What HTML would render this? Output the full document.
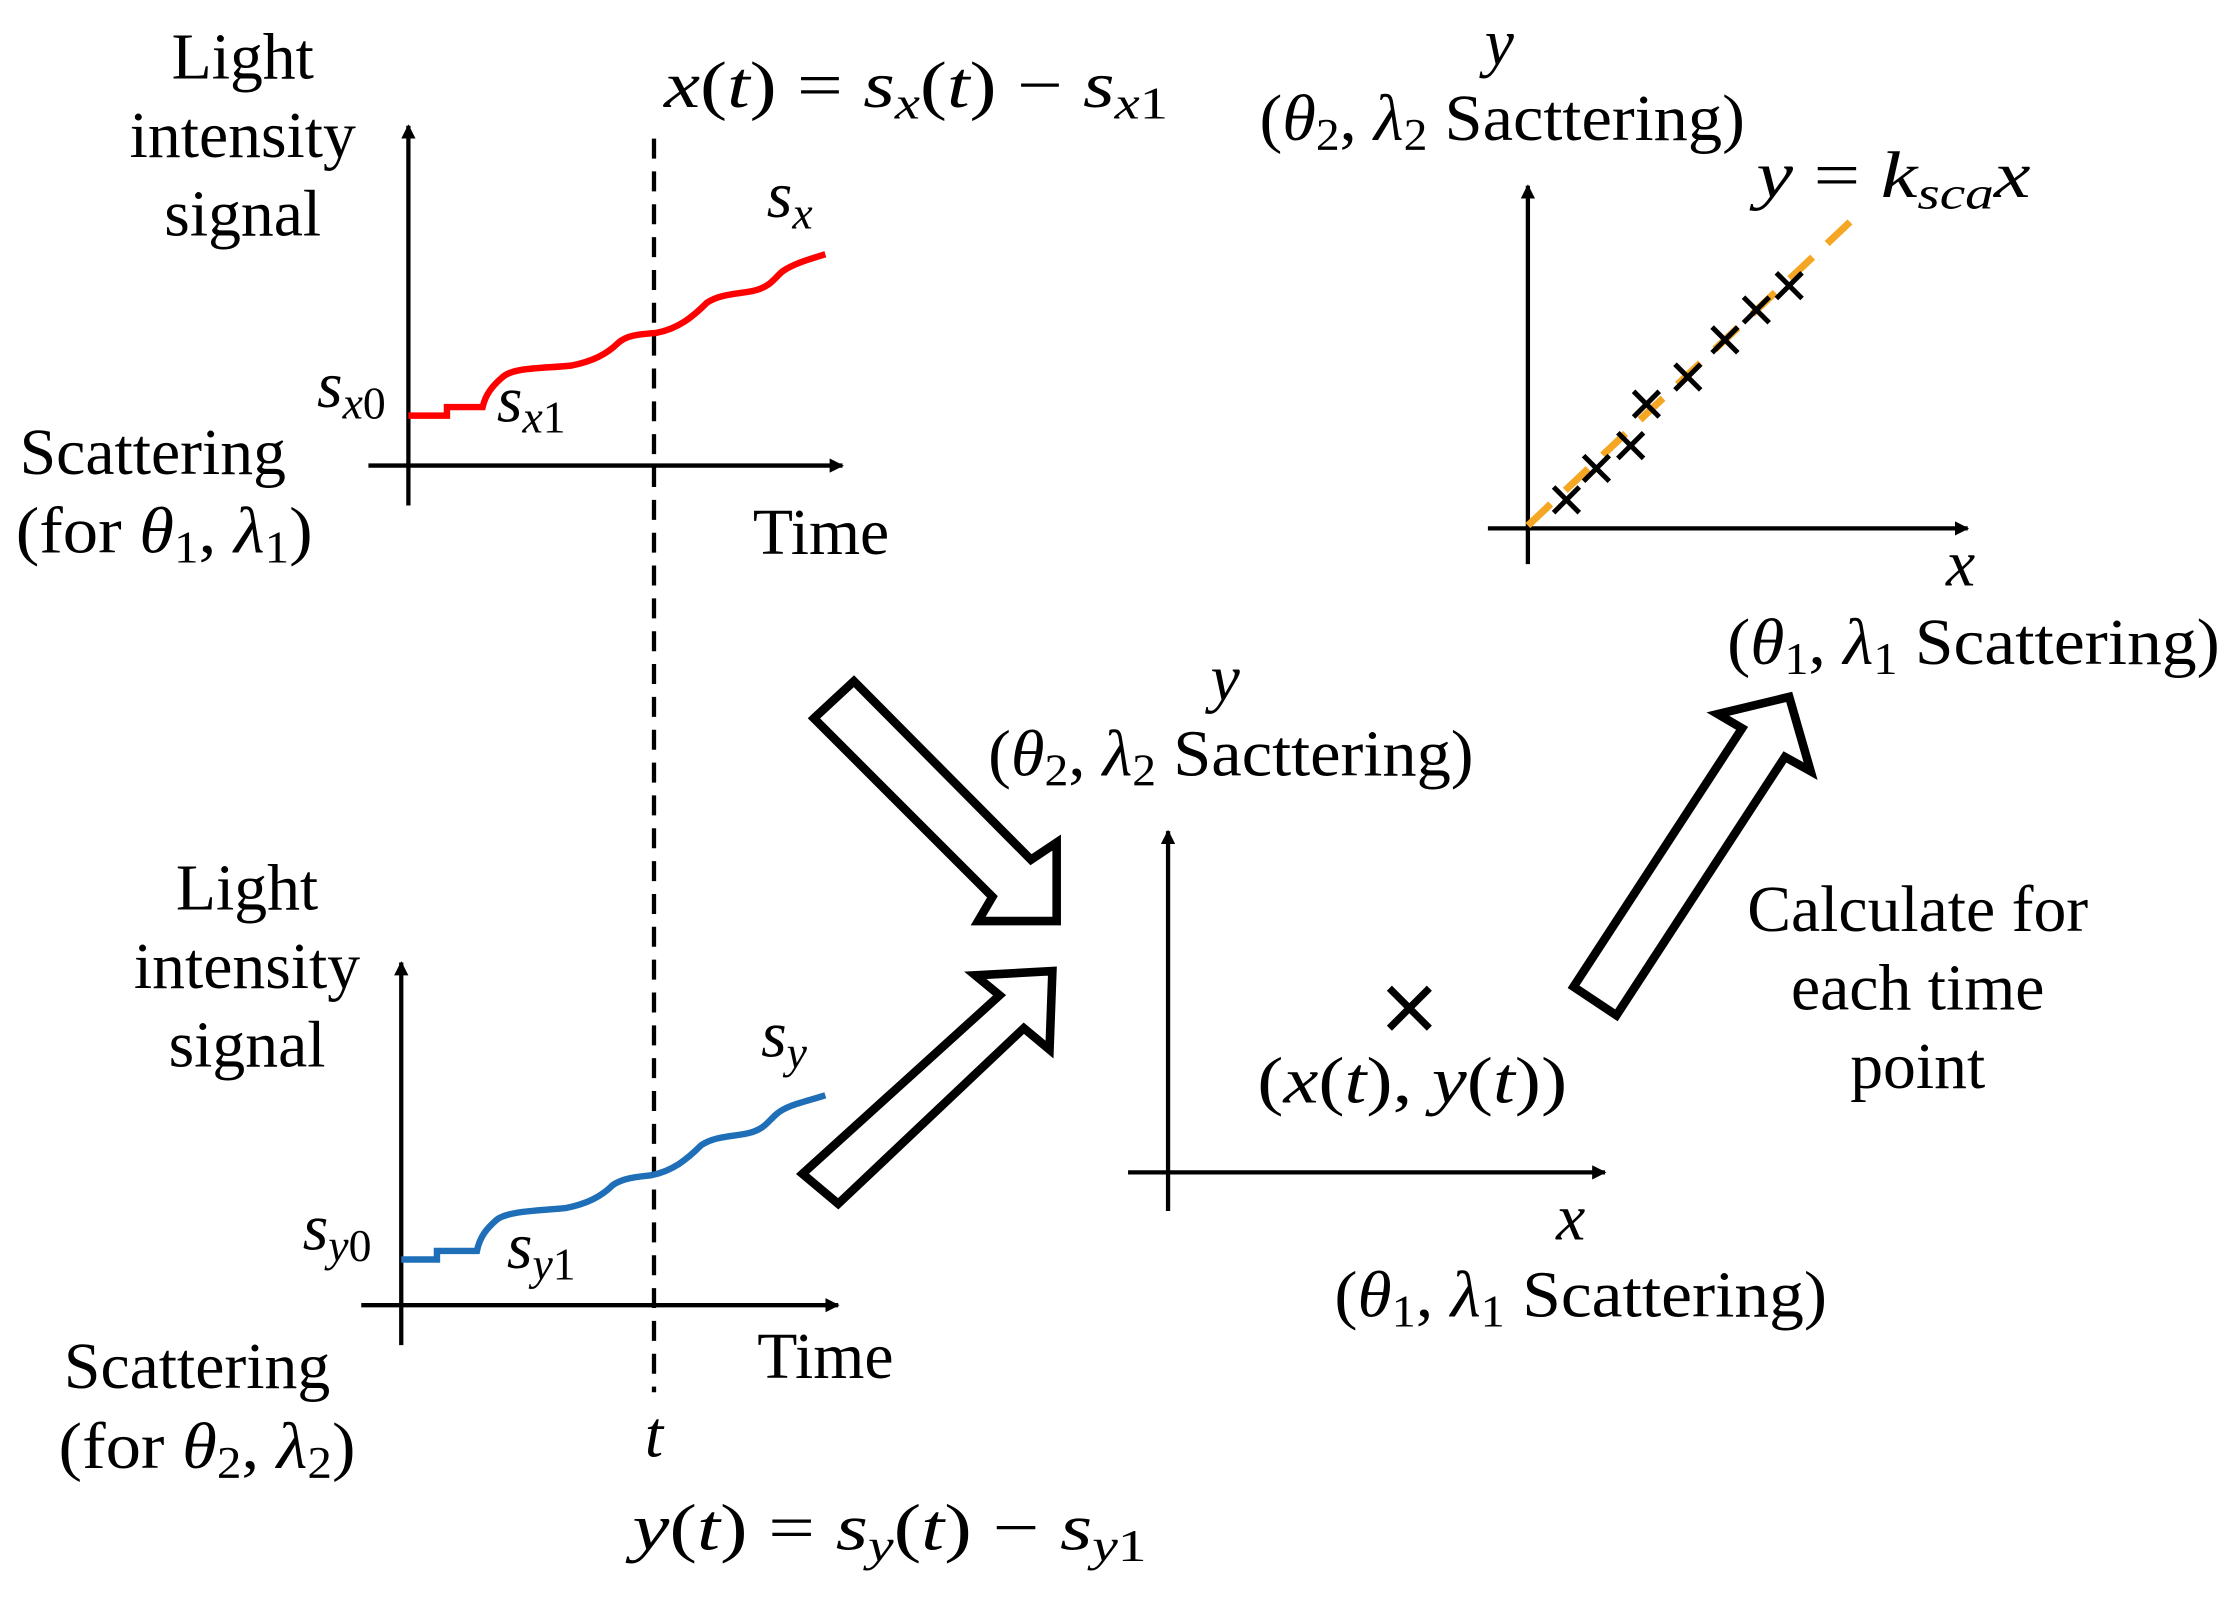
<!DOCTYPE html>
<html><head><meta charset="utf-8"><style>
html,body{margin:0;padding:0;background:#fff;}
svg{display:block;}
text{font-family:"Liberation Serif",serif;font-size:46px;fill:#000;}
.i{font-style:italic;}
</style></head><body>
<svg width="2239" height="1598" viewBox="0 0 1568 1119" xmlns="http://www.w3.org/2000/svg">
<defs>
<marker id="ah" markerWidth="10" markerHeight="10" refX="9" refY="5" orient="auto" markerUnits="userSpaceOnUse"><path d="M0,0 L10,5 L0,10 z" fill="#000"/></marker>
</defs>
<g stroke="#000" stroke-width="3" fill="none">
<line x1="286" y1="354" x2="286" y2="88" marker-end="url(#ah)"/>
<line x1="258" y1="326" x2="590" y2="326" marker-end="url(#ah)"/>
<line x1="458" y1="97" x2="458" y2="975" stroke-dasharray="14,9"/>
<line x1="281" y1="942" x2="281" y2="674" marker-end="url(#ah)"/>
<line x1="253" y1="914" x2="587" y2="914" marker-end="url(#ah)"/>
<line x1="818" y1="848" x2="818" y2="582" marker-end="url(#ah)"/>
<line x1="790" y1="821" x2="1124" y2="821" marker-end="url(#ah)"/>
<line x1="1070" y1="395" x2="1070" y2="130" marker-end="url(#ah)"/>
<line x1="1042" y1="370" x2="1378" y2="370" marker-end="url(#ah)"/>
</g>
<path d="M286,291 L313,291 L313,285 L338,285 C340,276 345,270 352,264 C360,257 380,258 400,256 C415,253 425,248 433,240 C440,234 450,234 460,233 C475,230 485,222 495,212 C505,205 520,206 530,203 C540,200 542,195 548,190 C555,185 565,182 578,178" stroke="#ff0000" stroke-width="4.5" fill="none"/>
<path d="M281,882 L306,882 L306,876 L334,876 C336,866 341,860 348,854 C356,848 376,848 396,846 C411,843 421,838 429,830 C436,825 446,824 456,823 C471,820 481,812 491,802 C501,795 516,796 526,793 C536,790 538,785 544,780 C551,774 562,772 578,767" stroke="#1f6fb8" stroke-width="4.5" fill="none"/>
<line x1="1070" y1="368" x2="1296" y2="155" stroke="#f5a623" stroke-width="5" stroke-dasharray="22,14"/>
<g stroke="#000" stroke-width="3.5">
<path d="M1088,341l18,18M1106,341l-18,18"/>
<path d="M1109,319l18,18M1127,319l-18,18"/>
<path d="M1133,303l18,18M1151,303l-18,18"/>
<path d="M1144,274l18,18M1162,274l-18,18"/>
<path d="M1173,255l18,18M1191,255l-18,18"/>
<path d="M1199,229l18,18M1217,229l-18,18"/>
<path d="M1221,208l18,18M1239,208l-18,18"/>
<path d="M1244,191l18,18M1262,191l-18,18"/>
<path d="M973,692l28,28M1001,692l-28,28" stroke-width="5"/>
</g>
<g stroke="#000" stroke-width="6" fill="#fff" stroke-linejoin="miter">
<polygon points="570,503 598,477 722,602 740,590 740,645 685,645 695,628"/>
<polygon points="562,822 700,697 683,683 737,680 735,735 717,720 587,843"/>
<polygon points="1102,691 1220,510 1203,500 1253,488 1268,540 1250,530 1132,711"/>
</g>
<g text-anchor="middle">
<text x="170" y="55">Light</text>
<text x="170" y="110">intensity</text>
<text x="170" y="165">signal</text>
<text x="107" y="332">Scattering</text>
<text x="115" y="387" textLength="208" lengthAdjust="spacingAndGlyphs">(for <tspan class="i">θ</tspan><tspan font-size="32" dy="7">1</tspan><tspan dy="-7">, </tspan><tspan class="i">λ</tspan><tspan font-size="32" dy="7">1</tspan><tspan dy="-7">)</tspan></text>
<text x="575" y="388">Time</text>
<text x="173" y="637">Light</text>
<text x="173" y="692">intensity</text>
<text x="173" y="747">signal</text>
<text x="138" y="972">Scattering</text>
<text x="145" y="1028" textLength="208" lengthAdjust="spacingAndGlyphs">(for <tspan class="i">θ</tspan><tspan font-size="32" dy="7">2</tspan><tspan dy="-7">, </tspan><tspan class="i">λ</tspan><tspan font-size="32" dy="7">2</tspan><tspan dy="-7">)</tspan></text>
<text x="578" y="965">Time</text>
<text x="458" y="1020" class="i">t</text>
<text x="862" y="543" textLength="340" lengthAdjust="spacingAndGlyphs">(<tspan class="i">θ</tspan><tspan font-size="32" dy="7">2</tspan><tspan dy="-7">, </tspan><tspan class="i">λ</tspan><tspan font-size="32" dy="7">2</tspan><tspan dy="-7"> Sacttering)</tspan></text>
<text x="1107" y="922" textLength="345" lengthAdjust="spacingAndGlyphs">(<tspan class="i">θ</tspan><tspan font-size="32" dy="7">1</tspan><tspan dy="-7">, </tspan><tspan class="i">λ</tspan><tspan font-size="32" dy="7">1</tspan><tspan dy="-7"> Scattering)</tspan></text>
<text x="989" y="772" textLength="217" lengthAdjust="spacingAndGlyphs">(<tspan class="i">x</tspan>(<tspan class="i">t</tspan>), <tspan class="i">y</tspan>(<tspan class="i">t</tspan>))</text>
<text x="1052" y="98" textLength="340" lengthAdjust="spacingAndGlyphs">(<tspan class="i">θ</tspan><tspan font-size="32" dy="7">2</tspan><tspan dy="-7">, </tspan><tspan class="i">λ</tspan><tspan font-size="32" dy="7">2</tspan><tspan dy="-7"> Sacttering)</tspan></text>
<text x="1382" y="465" textLength="345" lengthAdjust="spacingAndGlyphs">(<tspan class="i">θ</tspan><tspan font-size="32" dy="7">1</tspan><tspan dy="-7">, </tspan><tspan class="i">λ</tspan><tspan font-size="32" dy="7">1</tspan><tspan dy="-7"> Scattering)</tspan></text>
<text x="1343" y="652">Calculate for</text>
<text x="1343" y="707">each time</text>
<text x="1343" y="762">point</text>
<text x="858" y="490" class="i">y</text>
<text x="1100" y="868" class="i">x</text>
<text x="1050" y="45" class="i">y</text>
<text x="1373" y="410" class="i">x</text>
</g>
<text x="222" y="285" class="i">s<tspan font-size="32" dy="8">x</tspan><tspan font-size="32" font-style="normal">0</tspan></text>
<text x="348" y="295" class="i">s<tspan font-size="32" dy="8">x</tspan><tspan font-size="32" font-style="normal">1</tspan></text>
<text x="537" y="152" class="i">s<tspan font-size="32" dy="8">x</tspan></text>
<text x="212" y="875" class="i">s<tspan font-size="32" dy="8">y</tspan><tspan font-size="32" font-style="normal">0</tspan></text>
<text x="355" y="888" class="i">s<tspan font-size="32" dy="8">y</tspan><tspan font-size="32" font-style="normal">1</tspan></text>
<text x="533" y="740" class="i">s<tspan font-size="32" dy="8">y</tspan></text>
<text x="465" y="75" textLength="353" lengthAdjust="spacingAndGlyphs"><tspan class="i">x</tspan>(<tspan class="i">t</tspan>) = <tspan class="i">s</tspan><tspan class="i" font-size="32" dy="8">x</tspan><tspan dy="-8">(</tspan><tspan class="i">t</tspan>) − <tspan class="i">s</tspan><tspan class="i" font-size="32" dy="8">x</tspan><tspan font-size="32">1</tspan></text>
<text x="443" y="1085" textLength="360" lengthAdjust="spacingAndGlyphs"><tspan class="i">y</tspan>(<tspan class="i">t</tspan>) = <tspan class="i">s</tspan><tspan class="i" font-size="32" dy="8">y</tspan><tspan dy="-8">(</tspan><tspan class="i">t</tspan>) − <tspan class="i">s</tspan><tspan class="i" font-size="32" dy="8">y</tspan><tspan font-size="32">1</tspan></text>
<text x="1230" y="138" textLength="192" lengthAdjust="spacingAndGlyphs"><tspan class="i">y</tspan> = <tspan class="i">k</tspan><tspan class="i" font-size="32" dy="8">sca</tspan><tspan class="i" dy="-8">x</tspan></text>
</svg>
</body></html>
